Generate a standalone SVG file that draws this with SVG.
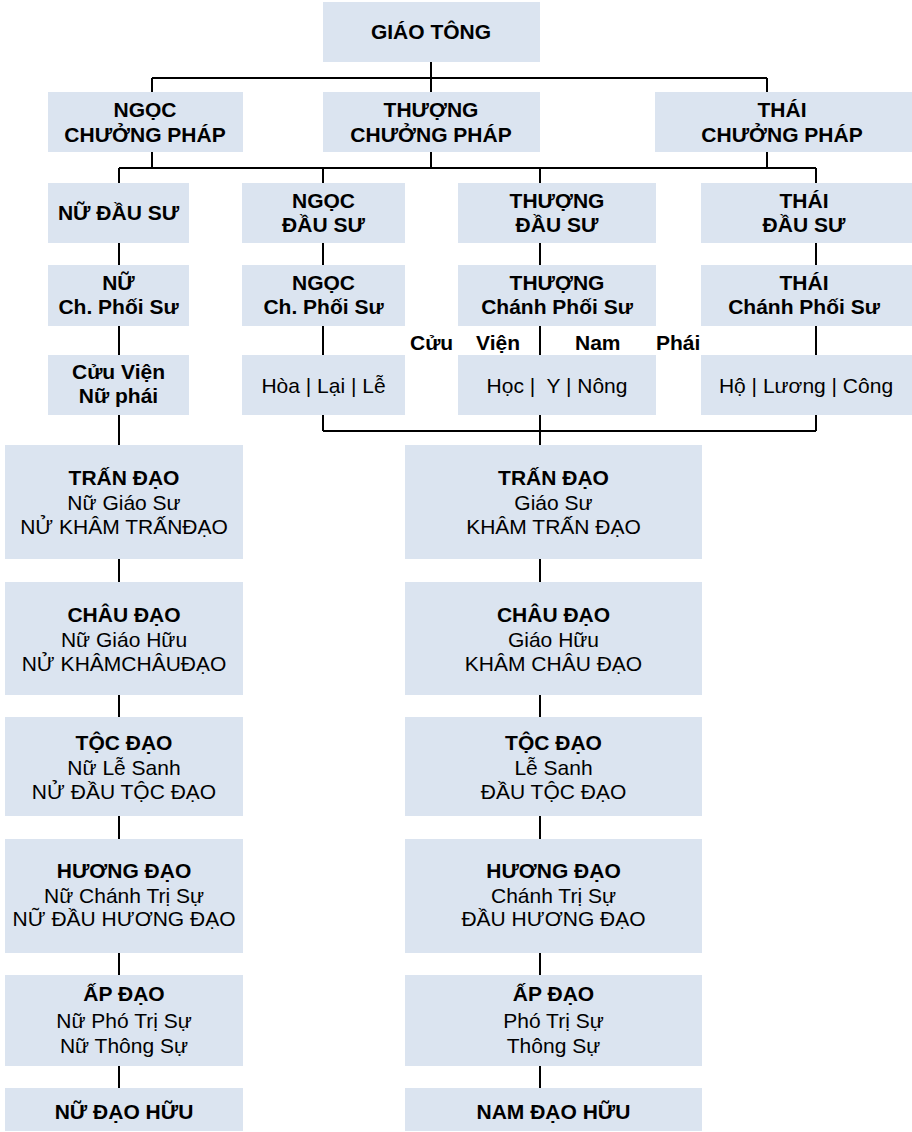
<svg xmlns="http://www.w3.org/2000/svg" width="912" height="1132" viewBox="0 0 912 1132">
<style>
.box{fill:#DBE4F0}
.b{font-family:"Liberation Sans",Arial,sans-serif;font-size:21px;font-weight:bold;fill:#000;text-anchor:middle}
.r{font-family:"Liberation Sans",Arial,sans-serif;font-size:21px;fill:#000;text-anchor:middle}
.bl{font-family:"Liberation Sans",Arial,sans-serif;font-size:21px;font-weight:bold;fill:#000}
.ln{stroke:#000;stroke-width:2;fill:none}
</style>
<rect width="912" height="1132" fill="#fff"/>
<g id="connectors" class="ln">
<path d="M431 62V78M152 78H767M152 78V92M431 78V92M767 78V92"/>
<path d="M152 152V168M431 152V168M767 152V168M119 168H816M119 168V183M323 168V183M540 168V183M816 168V183"/>
<path d="M119 243V265M323 243V265M540 243V265M816 243V265"/>
<path d="M119 326V355M323 326V355M540 326V355M816 326V355"/>
<path d="M323 415V431M816 415V431M323 431H816M540 415V445M119 415V445"/>
<path d="M119 559V582M540 559V582M119 695V717M540 695V717M119 816V839M540 816V839M119 953V975M540 953V975M119 1066V1088M540 1066V1088"/>
</g>
<g id="giao-tong"><rect class="box" x="323" y="2" width="217" height="60"/><text class="b" x="431" y="39">GIÁO TÔNG</text></g>
<g id="ngoc-chuong-phap"><rect class="box" x="48" y="92" width="195" height="60"/><text class="b" x="145" y="117">NGỌC</text><text class="b" x="145" y="141.5">CHƯỞNG PHÁP</text></g>
<g id="thuong-chuong-phap"><rect class="box" x="323" y="92" width="217" height="60"/><text class="b" x="431" y="117">THƯỢNG</text><text class="b" x="431" y="141.5">CHƯỞNG PHÁP</text></g>
<g id="thai-chuong-phap"><rect class="box" x="655" y="92" width="257" height="60"/><text class="b" x="782" y="117">THÁI</text><text class="b" x="782" y="141.5">CHƯỞNG PHÁP</text></g>
<g id="nu-dau-su"><rect class="box" x="48" y="183" width="141" height="60"/><text class="b" x="118.5" y="220">NỮ ĐẦU SƯ</text></g>
<g id="ngoc-dau-su"><rect class="box" x="242" y="183" width="163" height="60"/><text class="b" x="323.5" y="207.5">NGỌC</text><text class="b" x="323.5" y="231.5">ĐẦU SƯ</text></g>
<g id="thuong-dau-su"><rect class="box" x="458" y="183" width="198" height="60"/><text class="b" x="557" y="207.5">THƯỢNG</text><text class="b" x="557" y="231.5">ĐẦU SƯ</text></g>
<g id="thai-dau-su"><rect class="box" x="701" y="183" width="211" height="60"/><text class="b" x="804" y="207.5">THÁI</text><text class="b" x="804" y="231.5">ĐẦU SƯ</text></g>
<g id="nu-phoi-su"><rect class="box" x="48" y="265" width="141" height="61"/><text class="b" x="118.5" y="290">NỮ</text><text class="b" x="118.5" y="314">Ch. Phối Sư</text></g>
<g id="ngoc-phoi-su"><rect class="box" x="242" y="265" width="163" height="61"/><text class="b" x="323.5" y="290">NGỌC</text><text class="b" x="323.5" y="314">Ch. Phối Sư</text></g>
<g id="thuong-phoi-su"><rect class="box" x="458" y="265" width="198" height="61"/><text class="b" x="557" y="290">THƯỢNG</text><text class="b" x="557" y="314">Chánh Phối Sư</text></g>
<g id="thai-phoi-su"><rect class="box" x="701" y="265" width="211" height="61"/><text class="b" x="804" y="290">THÁI</text><text class="b" x="804" y="314">Chánh Phối Sư</text></g>
<g id="cuu-vien-label"><text class="bl" x="410" y="350">Cửu</text><text class="bl" x="476" y="350">Viện</text><text class="bl" x="575" y="350">Nam</text><text class="bl" x="656" y="350">Phái</text></g>
<g id="cuu-vien-nu-phai"><rect class="box" x="48" y="355" width="141" height="60"/><text class="b" x="118.5" y="379">Cửu Viện</text><text class="b" x="118.5" y="403">Nữ phái</text></g>
<g id="hoa-lai-le"><rect class="box" x="242" y="355" width="163" height="60"/><text class="r" x="323.5" y="393">Hòa | Lại | Lễ</text></g>
<g id="hoc-y-nong"><rect class="box" x="458" y="355" width="198" height="60"/><text class="r" x="557" y="393" xml:space="preserve">Học |  Y | Nông</text></g>
<g id="ho-luong-cong"><rect class="box" x="701" y="355" width="211" height="60"/><text class="r" x="806" y="393">Hộ | Lương | Công</text></g>
<g id="nu-tran-dao"><rect class="box" x="5" y="445" width="238" height="114"/><text class="b" x="124" y="485">TRẤN ĐẠO</text><text class="r" x="124" y="509.5">Nữ Giáo Sư</text><text class="r" x="124" y="533.5">NỬ KHÂM TRẤNĐẠO</text></g>
<g id="tran-dao"><rect class="box" x="405" y="445" width="297" height="114"/><text class="b" x="553.5" y="485">TRẤN ĐẠO</text><text class="r" x="553.5" y="509.5">Giáo Sư</text><text class="r" x="553.5" y="533.5">KHÂM TRẤN ĐẠO</text></g>
<g id="nu-chau-dao"><rect class="box" x="5" y="582" width="238" height="113"/><text class="b" x="124" y="621.5">CHÂU ĐẠO</text><text class="r" x="124" y="646.5">Nữ Giáo Hữu</text><text class="r" x="124" y="670.5">NỬ KHÂMCHÂUĐẠO</text></g>
<g id="chau-dao"><rect class="box" x="405" y="582" width="297" height="113"/><text class="b" x="553.5" y="621.5">CHÂU ĐẠO</text><text class="r" x="553.5" y="646.5">Giáo Hữu</text><text class="r" x="553.5" y="670.5">KHÂM CHÂU ĐẠO</text></g>
<g id="nu-toc-dao"><rect class="box" x="5" y="717" width="238" height="99"/><text class="b" x="124" y="749.5">TỘC ĐẠO</text><text class="r" x="124" y="774.5">Nữ Lễ Sanh</text><text class="r" x="124" y="799">NỬ ĐẦU TỘC ĐẠO</text></g>
<g id="toc-dao"><rect class="box" x="405" y="717" width="297" height="99"/><text class="b" x="553.5" y="749.5">TỘC ĐẠO</text><text class="r" x="553.5" y="774.5">Lễ Sanh</text><text class="r" x="553.5" y="799">ĐẦU TỘC ĐẠO</text></g>
<g id="nu-huong-dao"><rect class="box" x="5" y="839" width="238" height="114"/><text class="b" x="124" y="878">HƯƠNG ĐẠO</text><text class="r" x="124" y="902.5">Nữ Chánh Trị Sự</text><text class="r" x="124" y="926">NỮ ĐẦU HƯƠNG ĐẠO</text></g>
<g id="huong-dao"><rect class="box" x="405" y="839" width="297" height="114"/><text class="b" x="553.5" y="878">HƯƠNG ĐẠO</text><text class="r" x="553.5" y="902.5">Chánh Trị Sự</text><text class="r" x="553.5" y="926">ĐẦU HƯƠNG ĐẠO</text></g>
<g id="nu-ap-dao"><rect class="box" x="5" y="975" width="238" height="91"/><text class="b" x="124" y="1001">ẤP ĐẠO</text><text class="r" x="124" y="1027.5">Nữ Phó Trị Sự</text><text class="r" x="124" y="1052.5">Nữ Thông Sự</text></g>
<g id="ap-dao"><rect class="box" x="405" y="975" width="297" height="91"/><text class="b" x="553.5" y="1001">ẤP ĐẠO</text><text class="r" x="553.5" y="1027.5">Phó Trị Sự</text><text class="r" x="553.5" y="1052.5">Thông Sự</text></g>
<g id="nu-dao-huu"><rect class="box" x="5" y="1088" width="238" height="43"/><text class="b" x="124" y="1119">NỮ ĐẠO HỮU</text></g>
<g id="nam-dao-huu"><rect class="box" x="405" y="1088" width="297" height="43"/><text class="b" x="553.5" y="1119">NAM ĐẠO HỮU</text></g>
</svg>
